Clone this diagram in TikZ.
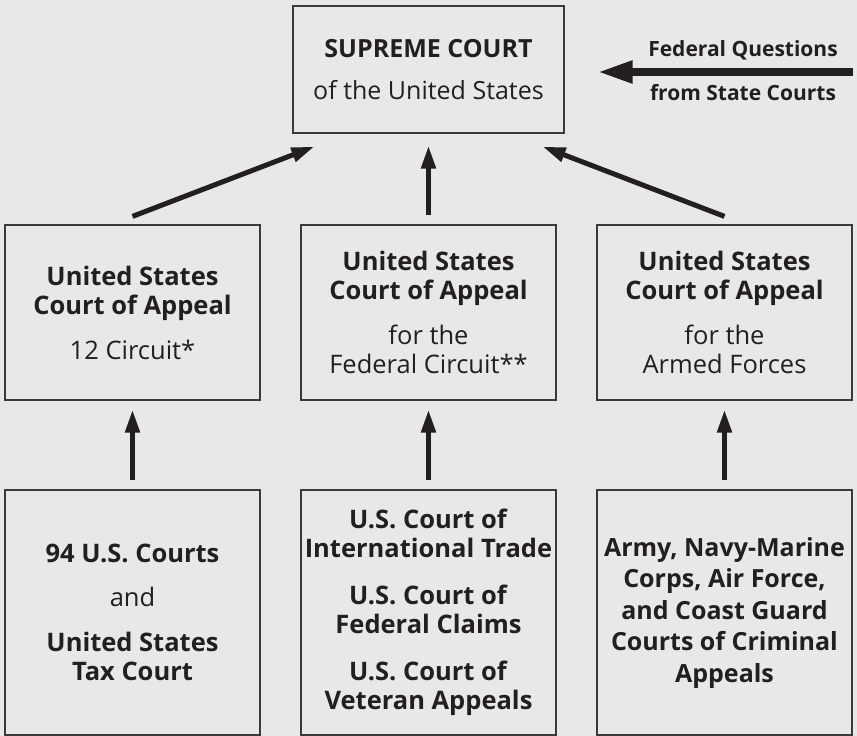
\documentclass[tikz,border=0pt]{standalone}
\usepackage{fontspec}
\setmainfont{Open Sans}
\usetikzlibrary{arrows.meta}
\definecolor{bg}{HTML}{E7E8E7}
\definecolor{ink}{HTML}{231F20}
\definecolor{edge}{HTML}{3A3A3A}
\begin{document}
\begin{tikzpicture}[x=1pt,y=-1pt,
  courtbox/.style={draw=edge,line width=1.2pt,fill=bg,inner sep=0pt,align=center,text=ink,
    font=\fontsize{25.5}{29.5}\selectfont},
  uparrow/.style={draw=ink,line width=5pt,-{Triangle[length=23pt,width=14pt]}},
  bigarrow/.style={draw=ink,line width=8pt,-{Triangle[length=35pt,width=21pt]}},
  fqtext/.style={text=ink,font=\fontsize{21}{24}\selectfont\bfseries,inner sep=0pt}]
\fill[bg] (0,0) rectangle (857,736);
\useasboundingbox (0,0) rectangle (857,736);
% top
\node[courtbox,minimum width=271pt,minimum height=127pt,font=\fontsize{25}{29.5}\selectfont] (sc) at (428.5,69.5)
  {\textbf{SUPREME COURT}\\[13pt]of the United States};
% middle row
\node[courtbox,minimum width=255pt,minimum height=175pt] (ca1) at (132.5,312.5)
  {\textbf{United States}\\\textbf{Court of Appeal}\\[15pt]12 Circuit*};
\node[courtbox,minimum width=255pt,minimum height=175pt] (ca2) at (428.5,312.5)
  {\textbf{United States}\\\textbf{Court of Appeal}\\[15pt]for the\\Federal Circuit**};
\node[courtbox,minimum width=255pt,minimum height=175pt] (ca3) at (724.5,312.5)
  {\textbf{United States}\\\textbf{Court of Appeal}\\[15pt]for the\\Armed Forces};
% bottom row
\node[courtbox,minimum width=255pt,minimum height=245pt] (lc1) at (132.5,612.5)
  {\textbf{94 U.S. Courts}\\[15pt]and\\[15pt]\textbf{United States}\\\textbf{Tax Court}};
\node[courtbox,minimum width=255pt,minimum height=245pt] (lc2) at (428.5,612.5)
  {\textbf{U.S. Court of}\\\textbf{International Trade}\\[17pt]\textbf{U.S. Court of}\\\textbf{Federal Claims}\\[17pt]\textbf{U.S. Court of}\\\textbf{Veteran Appeals}};
\node[courtbox,minimum width=255pt,minimum height=245pt,font=\fontsize{25}{31.5}\selectfont] (lc3) at (724.5,612.5)
  {\textbf{Army, Navy-Marine}\\\textbf{Corps, Air Force,}\\\textbf{and Coast Guard}\\\textbf{Courts of Criminal}\\\textbf{Appeals}};
% federal questions
\node[fqtext] (fq1) at (743,50) {Federal Questions};
\node[fqtext] (fq2) at (743,93) {from State Courts};
\coordinate (fqstart) at (853,72);
% arrows
\draw[bigarrow] (fqstart) -- ([xshift=33pt,yshift=-2.5pt]sc.east);
\draw[uparrow] ([yshift=8pt]ca1.north) -- ([xshift=22pt,yshift=-13pt]sc.south west);
\draw[uparrow] ([yshift=9pt]ca2.north) -- ([yshift=-12pt]sc.south);
\draw[uparrow] ([yshift=8pt]ca3.north) -- ([xshift=-22pt,yshift=-13pt]sc.south east);
\draw[uparrow] ([yshift=9pt]lc1.north) -- ([yshift=-9pt]ca1.south);
\draw[uparrow] ([yshift=9pt]lc2.north) -- ([yshift=-9pt]ca2.south);
\draw[uparrow] ([yshift=9pt]lc3.north) -- ([yshift=-9pt]ca3.south);
\end{tikzpicture}
\end{document}
